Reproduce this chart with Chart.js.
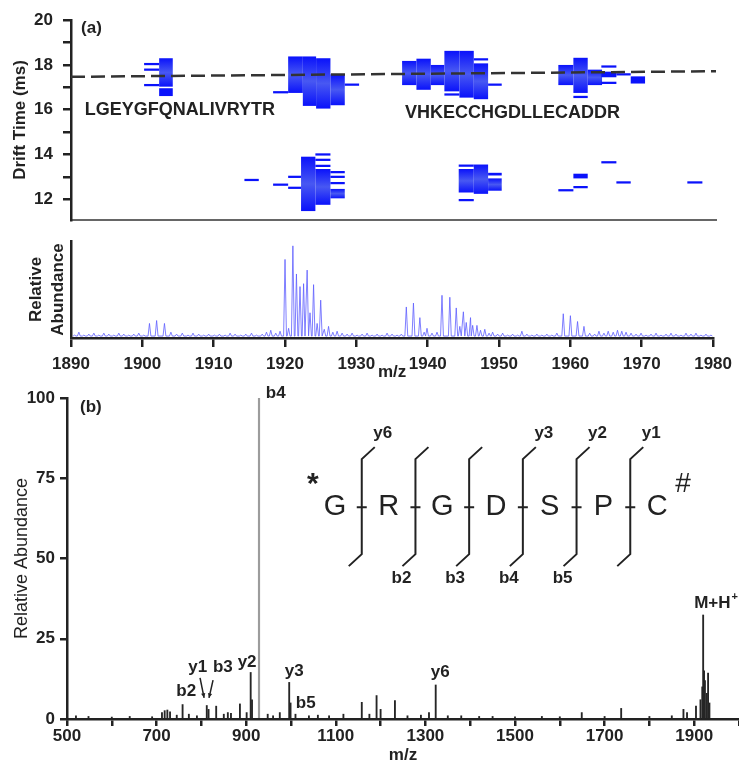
<!DOCTYPE html>
<html>
<head>
<meta charset="utf-8">
<script src="https://cdn.jsdelivr.net/npm/chart.js@4.4.0/dist/chart.umd.min.js"></script>
<style>
  body { margin: 0; background: #fff; width: 739px; height: 766px; position: relative; overflow: hidden; }
  canvas { position: absolute; left: 0; }
  #mobility { top: 0; }
  #spectrumA { top: 232px; }
  #msms { top: 380px; }
</style>
</head>
<body>
<canvas id="mobility" width="739" height="240"></canvas>
<canvas id="spectrumA" width="739" height="153"></canvas>
<canvas id="msms" width="739" height="386"></canvas>
<script>
// ---- panel (a): drift time vs m/z cells  [mz start, mz end, drift low, drift high]
const imsCells = [
  [1902.3,1904.2,17.03,18.30],[1902.3,1904.2,16.61,16.96],
  [1900.2,1902.3,17.99,18.09],[1900.2,1902.3,17.74,17.84],[1900.2,1902.3,17.05,17.15],
  [1920.3,1922.35,16.75,18.38],[1922.35,1924.2,16.17,18.38],[1924.2,1926.2,16.05,18.30],
  [1926.2,1928.2,16.2,17.58],[1918.2,1920.3,16.73,16.83],[1928.2,1930.2,17.07,17.17],
  [1922.1,1924.1,11.47,13.90],[1924.1,1926.2,11.75,13.35],[1924.1,1926.2,13.95,14.05],
  [1924.1,1926.2,13.71,13.81],[1924.1,1926.2,13.44,13.54],[1926.2,1928.2,12.04,12.46],
  [1926.2,1928.2,13.16,13.26],[1926.2,1928.2,12.95,13.05],[1926.2,1928.2,12.67,12.77],
  [1920.3,1922.1,12.95,13.05],[1920.3,1922.1,12.46,12.56],[1918.2,1920.3,12.6,12.7],
  [1914.2,1916.2,12.81,12.91],
  [1936.2,1938.2,17.10,18.18],[1938.2,1940.2,16.89,18.28],[1940.2,1942.1,17.10,18.0],
  [1942.1,1944.2,16.82,18.63],[1944.2,1946.2,16.54,18.63],[1946.2,1948.2,16.47,18.07],
  [1946.2,1948.2,18.2,18.3],[1948.2,1950.1,17.07,17.17],[1942.1,1944.2,16.63,16.73],
  [1958.0,1960.1,17.10,18.0],[1960.1,1962.1,16.75,18.32],[1962.1,1964.1,17.10,17.79],
  [1964.0,1966.1,17.88,17.98],[1964.0,1966.1,17.45,17.7],[1964.0,1966.1,17.15,17.25],
  [1966.1,1968.1,17.53,17.63],[1968.1,1970.1,17.17,17.49],[1960.1,1962.1,16.52,16.62],
  [1944.1,1946.2,12.30,13.35],[1944.1,1946.2,13.45,13.55],[1946.2,1948.2,12.24,13.55],
  [1948.2,1950.1,12.38,12.93],[1948.2,1950.1,13.06,13.18],[1944.1,1946.2,11.91,12.01],
  [1960.1,1962.1,12.93,13.14],[1960.1,1962.1,12.49,12.59],[1958.0,1960.1,12.35,12.45],
  [1964.0,1966.1,13.6,13.7],[1966.1,1968.1,12.7,12.8],[1976.0,1978.1,12.7,12.8]
];
const trendMz = [1890, 1980];
const trendDrift = [17.47, 17.72];
const seqLabels = [['LGEYGFQNALIVRYTR', 1905.2, 16.0], ['VHKECCHGDLLECADDR', 1951.6, 15.83]];

// ---- panel (a): mass spectrum peaks [m/z, relative abundance]
const specPeaks = [
  [1890.5,3],[1891.1,6],[1891.8,3],[1892.5,4],[1893.2,5],[1893.9,3],[1894.6,5],[1895.3,4],[1896,3],
  [1896.7,5],[1897.4,4],[1898.1,3],[1898.8,4],[1899.5,5],[1900.2,3],[1901,15],[1902,18],[1903.1,15],
  [1904,6],[1904.8,4],[1905.6,5],[1906.4,3],[1907.1,5],[1907.9,4],[1908.6,3],[1909.3,4],[1910.1,3],
  [1910.8,4],[1911.6,3],[1912.3,5],[1913,4],[1913.8,3],[1914.5,4],[1915.3,5],[1916,3],[1916.8,4],
  [1917.4,6],[1918,8],[1918.7,5],[1919.3,7],[1920,81],[1920.5,10],[1921.1,95],[1921.6,66],
  [1922.1,53],[1922.6,56],[1923.1,70],[1923.5,26],[1924,55],[1924.5,15],[1925,39],[1925.5,9],
  [1926.1,12],[1926.7,6],[1927.3,7],[1928,5],[1928.7,4],[1929.4,5],[1930.1,3],[1930.8,4],[1931.5,5],
  [1932.2,3],[1932.9,4],[1933.6,3],[1934.3,5],[1935,4],[1935.7,3],[1936.3,4],[1937,32],[1938,36],
  [1938.9,21],[1939.5,6],[1939.9,10],[1940.6,5],[1941.3,6],[1942,44],[1943.1,42],[1944,31],
  [1944.5,12],[1945,27],[1945.4,16],[1946,21],[1946.3,13],[1946.9,13],[1947.4,8],[1948,9],
  [1948.6,5],[1949.1,6],[1949.8,4],[1950.5,5],[1951.2,3],[1951.9,4],[1952.6,3],[1953.2,7],[1953.9,4],
  [1954.6,3],[1955.3,4],[1956,3],[1956.7,4],[1957.4,3],[1958.1,5],[1959,25],[1960,23],[1961,17],
  [1961.9,12],[1962.7,5],[1963.4,4],[1964,7],[1964.7,5],[1965.3,7],[1966,6],[1966.6,8],[1967.2,7],
  [1967.8,6],[1968.5,5],[1969.2,4],[1969.9,5],[1970.6,3],[1971.3,4],[1972,5],[1972.7,3],[1973.4,4],
  [1974.1,5],[1974.8,4],[1975.5,3],[1976.2,5],[1976.9,4],[1977.6,5],[1978.3,3],[1979,4],[1979.7,3]
];

// ---- panel (b): MS/MS sticks [m/z, relative abundance]
const basePeak = [[928.6, 100]];
const msmsPeaks = [
  [520,1],[548,0.8],[600,0.6],[640,0.8],[690,0.7],[712,2],[718,2.6],[724,2.8],[730,2.2],[745,1.2],
  [758,4.5],[772,1.5],[790,1],[812,4.2],[816,3],[833,4],[850,1.5],[859,2],[866,1.8],[886,4.7],
  [901,2],[910,14.5],[913,6],[928.6,38],[948,1.5],[960,1],[975,2],[996,11.4],[999,5],[1010,1.5],
  [1040,1],[1060,1.2],[1085,1],[1117,1.5],[1158,5.2],[1175,1.5],[1191,7.3],[1200,3],[1232,5.7],
  [1260,1],[1290,1.2],[1308,2],[1323,10.6],[1350,1],[1380,1],[1420,0.8],[1450,0.8],[1500,0.7],
  [1560,0.8],[1600,0.7],[1649,2],[1700,0.8],[1737,3.3],[1800,0.8],[1850,1],[1876,3],[1884,2],
  [1904,4],[1914,6],[1918,10],[1920,32.4],[1922,15],[1924,12],[1928,8],[1931,14.3],[1934,5]
];
const peakLabels = [['b4',966,101.5],['y2',902,17.8],['y1',792,16.2],['b3',848,16.2],['b2',766,8.5],
                    ['y3',1007,15.0],['b5',1033,4.9],['y6',1333,14.7]];
const arrowsB = [[797,12.8,806,6.6],[826,12.1,817,6.6]];
const residues = ['G','R','G','D','S','P','C'];
const yIons = ['y6','','','y3','y2','y1'];
const bIons = ['','b2','b3','b4','b5',''];
const peptideAt = [1098, 66];

const FONT = "'Liberation Sans', Arial, sans-serif";
Chart.defaults.font.family = FONT;
Chart.defaults.font.size = 17;
Chart.defaults.font.weight = 'bold';
Chart.defaults.color = '#222';
Chart.defaults.animation = false;
Chart.defaults.plugins.legend.display = false;
Chart.defaults.plugins.tooltip.enabled = false;

const ink = '#222';
const fixW = w => s => { s.width = w; };
const fixH = h => s => { s.height = h; };

// heat map cells + sequence labels
const heatPlugin = {
  id: 'heat',
  beforeDatasetsDraw(chart) {
    const { ctx, chartArea: a, scales: { x, y } } = chart;
    ctx.save();
    ctx.beginPath();
    ctx.rect(a.left, a.top, a.right - a.left, a.bottom - a.top);
    ctx.clip();
    imsCells.forEach(([m0, m1, d0, d1]) => {
      const x0 = x.getPixelForValue(m0), x1 = x.getPixelForValue(m1);
      const yt = y.getPixelForValue(d1), yb = y.getPixelForValue(d0);
      if (d1 - d0 > 0.4) {
        const g = ctx.createLinearGradient(0, yt, 0, yb);
        g.addColorStop(0, '#0a12fb');
        g.addColorStop(0.5, '#4858f2');
        g.addColorStop(1, '#0a12fb');
        ctx.fillStyle = g;
      } else {
        ctx.fillStyle = '#0a12fb';
      }
      ctx.fillRect(x0, yt, x1 - x0, yb - yt);
    });
    ctx.restore();
  },
  afterDraw(chart) {
    const { ctx, scales: { x, y } } = chart;
    ctx.save();
    ctx.fillStyle = ink;
    ctx.textBaseline = 'middle';
    ctx.textAlign = 'center';
    ctx.font = 'bold 18px ' + FONT;
    seqLabels.forEach(([t, m, d]) => ctx.fillText(t, x.getPixelForValue(m), y.getPixelForValue(d)));
    ctx.font = 'bold 17px ' + FONT;
    ctx.textAlign = 'left';
    ctx.fillText('(a)', x.getPixelForValue(1891.4), y.getPixelForValue(19.65));
    ctx.restore();
  }
};

new Chart(document.getElementById('mobility'), {
  type: 'scatter',
  data: {
    datasets: [{
      data: trendMz.map((m, i) => ({ x: m, y: trendDrift[i] })),
      showLine: true, borderColor: '#333', borderWidth: 2.5, borderDash: [14, 6], pointRadius: 0
    }]
  },
  options: {
    responsive: false,
    layout: { padding: { top: 17, right: 23, left: 0, bottom: 0 } },
    scales: {
      x: {
        type: 'linear', min: 1890, max: 1980,
        ticks: { display: false }, grid: { display: false },
        border: { color: '#666', width: 2 },
        afterFit: fixH(9)
      },
      y: {
        min: 11.08, max: 20,
        ticks: { stepSize: 1, includeBounds: false, padding: 10, callback: v => (v % 2 === 0 ? v : '') },
        grid: { drawOnChartArea: false, tickLength: 8, color: ink, lineWidth: 2.5 },
        border: { color: ink, width: 2.5 },
        title: { display: true, text: 'Drift Time (ms)', padding: { top: 10, bottom: 0 } },
        afterFit: fixW(71)
      }
    }
  },
  plugins: [heatPlugin]
});

// spectrum under the map: each peak drawn as a narrow spike
const spikes = [];
specPeaks.forEach(([m, h]) => {
  spikes.push({ x: m - 0.2, y: 2 }, { x: m, y: h }, { x: m + 0.2, y: 2 });
});
spikes.sort((p, q) => p.x - q.x);

new Chart(document.getElementById('spectrumA'), {
  type: 'scatter',
  data: {
    datasets: [{
      data: spikes, showLine: true, borderColor: 'rgba(95,95,255,0.8)', borderWidth: 1, pointRadius: 0
    }]
  },
  options: {
    responsive: false,
    layout: { padding: { top: 9, right: 23, left: 0, bottom: 0 } },
    scales: {
      x: {
        type: 'linear', min: 1890, max: 1980,
        ticks: { stepSize: 10, autoSkip: false, maxRotation: 0, padding: 7, callback: v => String(v) },
        grid: { drawOnChartArea: false, tickLength: 9, color: ink, lineWidth: 2.5 },
        border: { color: ink, width: 2.5 },
        title: { display: true, text: 'm/z', padding: { top: 0, bottom: 2 } },
        afterFit: fixH(47)
      },
      y: {
        min: 0, max: 100,
        ticks: { display: false }, grid: { display: false },
        border: { color: ink, width: 2.5 },
        title: { display: true, text: ['Relative', 'Abundance'], font: { size: 17, lineHeight: 1.25 }, padding: { top: 26, bottom: 0 } },
        afterFit: fixW(71)
      }
    }
  }
});

// panel (b) annotations and peptide scheme
const msmsPlugin = {
  id: 'msmsNotes',
  afterDatasetsDraw(chart) {
    const { ctx, scales: { x, y } } = chart;
    ctx.save();
    ctx.fillStyle = ink;
    ctx.strokeStyle = ink;
    ctx.textBaseline = 'middle';
    ctx.textAlign = 'center';
    ctx.font = 'bold 17px ' + FONT;
    peakLabels.forEach(([t, m, v]) => ctx.fillText(t, x.getPixelForValue(m), y.getPixelForValue(v)));
    ctx.textAlign = 'left';
    ctx.fillText('(b)', x.getPixelForValue(529), y.getPixelForValue(97.2));
    const mx = x.getPixelForValue(1900), my = y.getPixelForValue(36);
    ctx.fillText('M+H', mx, my);
    const w = ctx.measureText('M+H').width;
    ctx.font = 'bold 11px ' + FONT;
    ctx.fillText('+', mx + w + 1, my - 6);

    // arrows to y1 / b3
    ctx.lineWidth = 1.5;
    arrowsB.forEach(([m0, v0, m1, v1]) => {
      const x0 = x.getPixelForValue(m0), y0 = y.getPixelForValue(v0);
      const x1 = x.getPixelForValue(m1), y1 = y.getPixelForValue(v1);
      ctx.beginPath(); ctx.moveTo(x0, y0); ctx.lineTo(x1, y1); ctx.stroke();
      const ang = Math.atan2(y1 - y0, x1 - x0);
      ctx.beginPath();
      ctx.moveTo(x1, y1);
      ctx.lineTo(x1 - 5 * Math.cos(ang - 0.45), y1 - 5 * Math.sin(ang - 0.45));
      ctx.lineTo(x1 - 5 * Math.cos(ang + 0.45), y1 - 5 * Math.sin(ang + 0.45));
      ctx.closePath(); ctx.fill();
    });

    // peptide fragmentation scheme
    const cx0 = x.getPixelForValue(peptideAt[0]), cy = y.getPixelForValue(peptideAt[1]);
    const step = 53.7;
    ctx.font = '29px ' + FONT;
    ctx.textAlign = 'center';
    residues.forEach((r, i) => ctx.fillText(r, cx0 + i * step, cy));
    ctx.font = 'bold 30px ' + FONT;
    ctx.fillText('*', cx0 - 22, cy - 22);
    ctx.font = '28px ' + FONT;
    ctx.fillText('#', cx0 + 6 * step + 26, cy - 23);
    ctx.lineWidth = 2;
    ctx.font = 'bold 17px ' + FONT;
    for (let i = 0; i < residues.length - 1; i++) {
      const bx = cx0 + (i + 0.5) * step;
      ctx.beginPath();
      ctx.moveTo(bx + 13, cy - 60);
      ctx.lineTo(bx, cy - 48);
      ctx.lineTo(bx, cy + 47);
      ctx.lineTo(bx - 13, cy + 59);
      ctx.moveTo(bx - 5, cy);
      ctx.lineTo(bx + 5, cy);
      ctx.stroke();
      if (yIons[i]) ctx.fillText(yIons[i], bx + 21, cy - 74);
      if (bIons[i]) ctx.fillText(bIons[i], bx - 14, cy + 71);
    }
    ctx.restore();
  }
};

new Chart(document.getElementById('msms'), {
  type: 'bar',
  data: {
    datasets: [
      { data: basePeak.map(([m, v]) => ({ x: m, y: v })), backgroundColor: '#9c9c9c', barThickness: 1.5, grouped: false },
      { data: msmsPeaks.map(([m, v]) => ({ x: m, y: v })), backgroundColor: '#262626', barThickness: 1.2, grouped: false }
    ]
  },
  options: {
    responsive: false,
    layout: { padding: { top: 18, right: 0, left: 0, bottom: 0 } },
    scales: {
      x: {
        type: 'linear', min: 500, max: 2000, offset: false,
        ticks: { stepSize: 100, autoSkip: false, maxRotation: 0, padding: 0,
                 callback: v => ((v - 500) % 200 === 0 && v < 2000 ? String(v) : '') },
        grid: { drawOnChartArea: false, offset: false, tickLength: 7, color: ink, lineWidth: 2.5 },
        border: { color: ink, width: 2.5 },
        title: { display: true, text: 'm/z', padding: { top: 0, bottom: 0 } },
        afterFit: fixH(47)
      },
      y: {
        min: 0, max: 100,
        ticks: { stepSize: 25, padding: 5 },
        grid: { drawOnChartArea: false, tickLength: 7, color: ink, lineWidth: 2.5 },
        border: { color: ink, width: 2.5 },
        title: { display: true, text: 'Relative Abundance', font: { size: 18, weight: 'normal' }, padding: { top: 11, bottom: 0 } },
        afterFit: fixW(67)
      }
    }
  },
  plugins: [msmsPlugin]
});
</script>
</body>
</html>
